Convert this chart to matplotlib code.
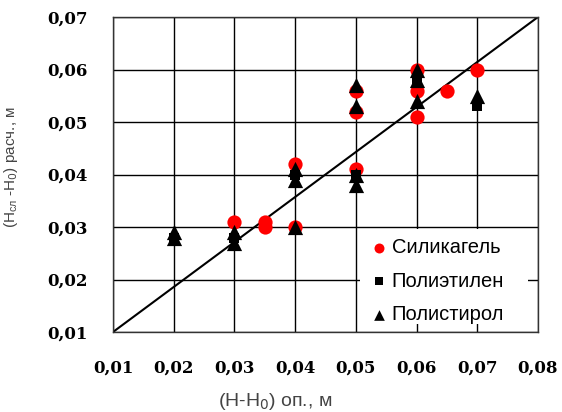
import matplotlib
matplotlib.use("Agg")
import matplotlib.pyplot as plt
from matplotlib.patches import Rectangle

# Data
sil_x = [0.03, 0.035, 0.035, 0.04, 0.04, 0.05, 0.05, 0.05, 0.06, 0.06, 0.06, 0.065, 0.07]
sil_y = [0.031, 0.031, 0.030, 0.042, 0.030, 0.056, 0.052, 0.041, 0.060, 0.056, 0.051, 0.056, 0.060]

pe_x = [0.02, 0.03, 0.04, 0.05, 0.06, 0.07]
pe_y = [0.028, 0.028, 0.040, 0.040, 0.058, 0.053]

ps_x = [0.02, 0.02, 0.03, 0.03, 0.04, 0.04, 0.04, 0.05, 0.05, 0.05, 0.05, 0.06, 0.06, 0.06, 0.07]
ps_y = [0.029, 0.028, 0.029, 0.027, 0.041, 0.039, 0.030, 0.057, 0.053, 0.040, 0.038, 0.060, 0.058, 0.054, 0.055]

line_x = [0.01, 0.08]
line_y = [0.01, 0.07]

x_ticks = [0.01, 0.02, 0.03, 0.04, 0.05, 0.06, 0.07, 0.08]
y_ticks = [0.01, 0.02, 0.03, 0.04, 0.05, 0.06, 0.07]
labels = ["Силикагель", "Полиэтилен", "Полистирол"]

fig = plt.figure(figsize=(5.62, 4.12), dpi=100)
ax = fig.add_axes([113/562, 1-332/412, 425/562, 315/412])

ax.set_xlim(0.01, 0.08)
ax.set_ylim(0.01, 0.07)
ax.set_xticks(x_ticks)
ax.set_yticks(y_ticks)
tick_font = dict(fontfamily="DejaVu Serif", fontweight="bold", fontsize=12)
ax.set_xticklabels([f"{v:.2f}".replace(".", ",") for v in x_ticks], **tick_font)
ax.set_yticklabels([f"{v:.2f}".replace(".", ",") for v in y_ticks], **tick_font)
ax.tick_params(axis="x", length=0, pad=20)
ax.tick_params(axis="y", length=0, pad=18)
ax.grid(True, color="black", linewidth=1)
ax.set_axisbelow(True)
for s in ax.spines.values():
    s.set_color("#333333")
    s.set_linewidth(1)

ax.plot(line_x, line_y, color="black", linewidth=1.5, zorder=2)
ax.scatter(sil_x, sil_y, s=105, marker="o", color="#ff0000", zorder=3, label=labels[0], linewidths=0)
ax.scatter(pe_x, pe_y, s=60, marker="s", color="black", zorder=4, label=labels[1], linewidths=0)
ax.scatter(ps_x, ps_y, s=120, marker="^", color="black", zorder=5, label=labels[2], linewidths=0)

# white legend box
ax.add_patch(Rectangle((0.581, 0.025), 0.395, 0.302, transform=ax.transAxes,
                       facecolor="white", edgecolor="none", zorder=1.5))

leg = ax.legend(loc="upper left", bbox_to_anchor=(0.612, 0.298), frameon=False,
                prop={"family": "Liberation Sans", "size": 14.5}, markerscale=0.7,
                handlelength=0.6, handletextpad=0.33, labelspacing=0.72, borderpad=0,
                borderaxespad=0)
leg.set_zorder(6)

ax.set_xlabel(r"(H-H$_0$) оп., м", fontfamily="Liberation Sans", fontsize=14,
              color="#444444")
ax.xaxis.set_label_coords((275-113)/425, -0.186)
ax.set_ylabel(r"(H$_{\mathregular{сл}}$ -H$_0$) расч., м", fontfamily="Liberation Sans",
              fontsize=11, color="#444444")
ax.yaxis.set_label_coords(-(113-20)/425, 0.524)

fig.savefig("out.png", dpi=100)
